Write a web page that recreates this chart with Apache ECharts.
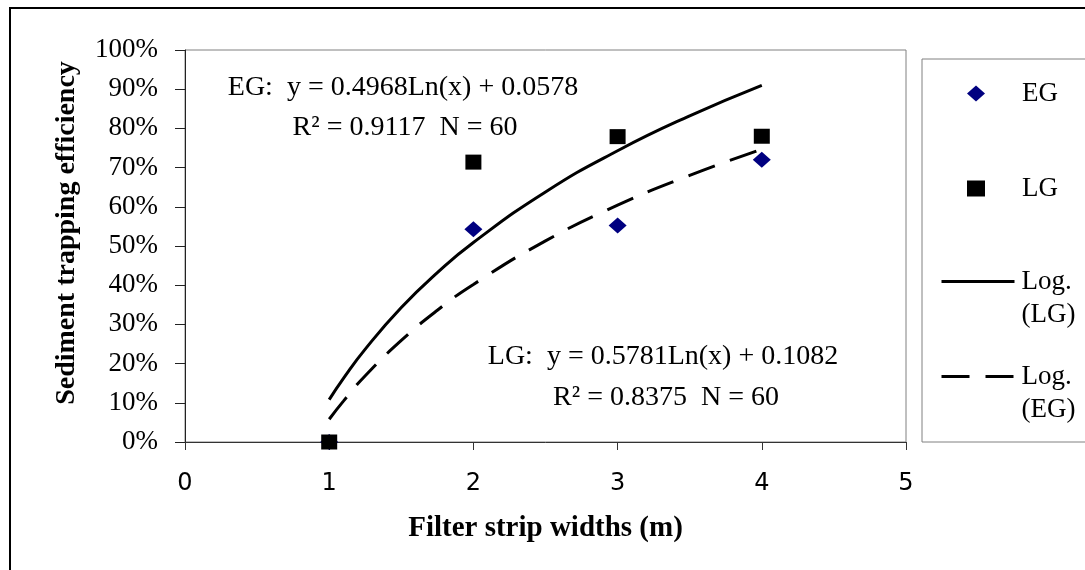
<!DOCTYPE html>
<html><head><meta charset="utf-8">
<script src="https://cdn.jsdelivr.net/npm/echarts@6/dist/echarts.min.js"></script>
<style>html,body{margin:0;padding:0;background:#fff}#c{width:1085px;height:570px}</style>
</head><body><div id="c"></div>
<script>
// ---- data ----
const widths = [1, 2, 3, 4];
const egValues = [0, 0.543, 0.552, 0.72];
const lgValues = [0, 0.714, 0.779, 0.78];
const trendX = [1, 1.1, 1.25, 1.5, 1.75, 2, 2.5, 3, 3.5, 4];
const lgTrend = [0.108, 0.163, 0.237, 0.343, 0.432, 0.509, 0.638, 0.743, 0.832, 0.910];
const egTrend = [0.058, 0.105, 0.169, 0.259, 0.336, 0.402, 0.513, 0.604, 0.680, 0.747];
const seriesNames = ['EG', 'LG', 'Log. (LG)', 'Log. (EG)'];
const eqEG = ['EG:  y = 0.4968Ln(x) + 0.0578', 'R\u00B2 = 0.9117  N = 60'];
const eqLG = ['LG:  y = 0.5781Ln(x) + 0.1082', 'R\u00B2 = 0.8375  N = 60'];
const xTitle = 'Filter strip widths (m)';
const yTitle = 'Sediment trapping efficiency';

const SERIF = '"Liberation Serif", "Times New Roman", serif';
const SANS = '"DejaVu Sans", Verdana, sans-serif';

const chart = echarts.init(document.getElementById('c'), null, {renderer: 'canvas'});

function pairs(xs, ys) { return xs.map((x, i) => [x, ys[i]]); }

function markerLegend(name, icon, top) {
  return {
    data: [{name: name, icon: icon, textStyle: {padding: [0, 0, 0, 32]}}],
    orient: 'vertical', left: 962, top: top,
    itemWidth: 18, itemHeight: 16, selectedMode: false,
    textStyle: {fontFamily: SERIF, fontSize: 27, color: '#000'},
    itemStyle: {opacity: 1}
  };
}
function lineLegend(name, top) {
  return {
    data: [{name: name, textStyle: {padding: [0, 0, 0, 2], lineHeight: 33}}],
    orient: 'vertical', left: 935, top: top,
    itemWidth: 73, itemHeight: 16, selectedMode: false,
    formatter: n => '\n' + n.replace(' ', '\n'),
    textStyle: {fontFamily: SERIF, fontSize: 27, color: '#000'},
    itemStyle: {color: 'rgba(0,0,0,0)', borderWidth: 0, opacity: 0},
    lineStyle: {width: 3}
  };
}

const eqStyle = {fontFamily: SERIF, fontSize: 28, fill: '#000', align: 'center', verticalAlign: 'middle'};

const option = {
  backgroundColor: '#fff',
  animation: false,
  grid: {left: 185, top: 50, right: 179, bottom: 128, show: true, borderColor: '#808080', borderWidth: 1, containLabel: false},
  xAxis: {
    type: 'value', min: 0, max: 5, interval: 1,
    name: xTitle, nameLocation: 'middle', nameGap: 72,
    nameTextStyle: {fontFamily: SERIF, fontSize: 29, fontWeight: 'bold', color: '#000'},
    axisLine: {show: true, onZero: false, lineStyle: {color: '#333', width: 1}},
    axisTick: {show: true, length: 8, inside: false, lineStyle: {color: '#333'}},
    axisLabel: {fontFamily: SANS, fontSize: 24, color: '#000', margin: 30},
    splitLine: {show: false}
  },
  yAxis: {
    type: 'value', min: 0, max: 1, interval: 0.1,
    axisLine: {show: true, onZero: false, lineStyle: {color: '#222', width: 1}},
    axisTick: {show: true, length: 10, inside: false, lineStyle: {color: '#222'}},
    axisLabel: {fontFamily: SERIF, fontSize: 27, color: '#000', margin: 27,
      formatter: v => Math.round(v * 100) + '%'},
    splitLine: {show: false}
  },
  legend: [
    markerLegend(seriesNames[0], 'diamond', 75),
    markerLegend(seriesNames[1], 'rect', 170),
    lineLegend(seriesNames[2], 227),
    lineLegend(seriesNames[3], 322)
  ],
  graphic: [
    {type: 'rect', shape: {x: 10, y: 8, width: 1100, height: 600}, style: {fill: 'none', stroke: '#000', lineWidth: 2}, z: 100, silent: true},
    {type: 'rect', shape: {x: 922, y: 59, width: 200, height: 383}, style: {fill: 'none', stroke: '#808080', lineWidth: 1}, silent: true},
    {type: 'text', x: 67, y: 233, rotation: Math.PI / 2,
      style: {text: yTitle, fontFamily: SERIF, fontSize: 28, fontWeight: 'bold', fill: '#000', align: 'center', verticalAlign: 'middle'}},
    {type: 'text', x: 403, y: 88, style: Object.assign({text: eqEG[0]}, eqStyle)},
    {type: 'text', x: 405, y: 128, style: Object.assign({text: eqEG[1]}, eqStyle)},
    {type: 'text', x: 663, y: 357, style: Object.assign({text: eqLG[0]}, eqStyle)},
    {type: 'text', x: 666, y: 398, style: Object.assign({text: eqLG[1]}, eqStyle)}
  ],
  series: [
    {name: seriesNames[0], type: 'scatter', data: pairs(widths, egValues), symbol: 'diamond', symbolSize: [18, 16],
      itemStyle: {color: '#000080', opacity: 1}, clip: false, z: 3},
    {name: seriesNames[1], type: 'scatter', data: pairs(widths, lgValues), symbol: 'rect', symbolSize: [16, 15],
      itemStyle: {color: '#000', opacity: 1}, clip: false, z: 4},
    {name: seriesNames[2], type: 'line', data: pairs(trendX, lgTrend), smooth: true, symbol: 'none', showSymbol: false,
      lineStyle: {color: '#000', width: 3}, itemStyle: {color: '#000'}, z: 2},
    {name: seriesNames[3], type: 'line', data: pairs(trendX, egTrend), smooth: true, symbol: 'none', showSymbol: false,
      lineStyle: {color: '#000', width: 3, type: [28, 16]}, itemStyle: {color: '#000'}, z: 2}
  ]
};
chart.setOption(option);
</script>
</body></html>
